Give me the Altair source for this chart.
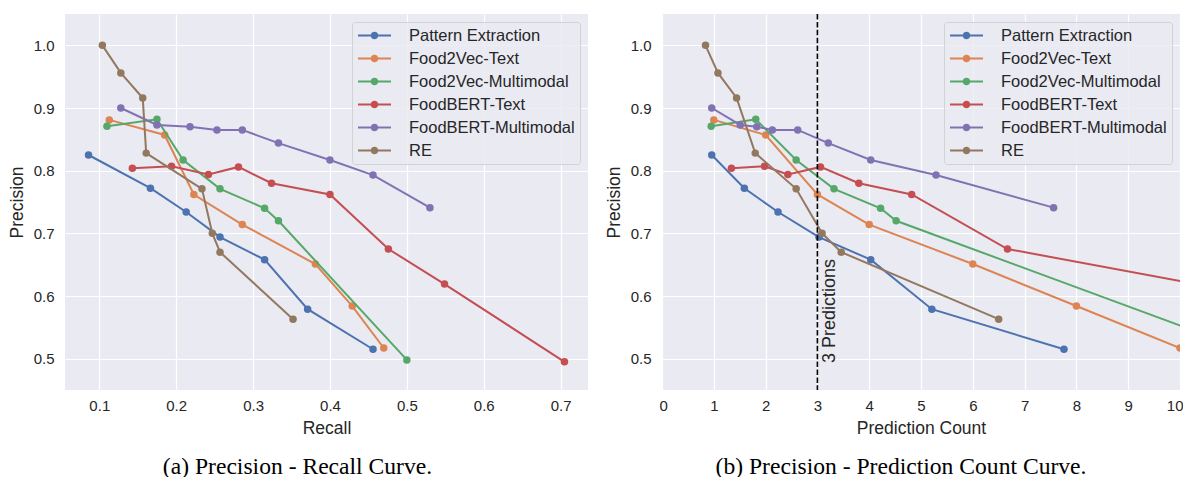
import altair as alt
import pandas as pd

SERIES = ["Pattern Extraction", "Food2Vec-Text", "Food2Vec-Multimodal",
          "FoodBERT-Text", "FoodBERT-Multimodal", "RE"]
COLORS = ["#4C72B0", "#DD8452", "#55A868", "#C44E52", "#8172B3", "#937860"]

# precision values (shared by both panels)
prec_pe = [0.825, 0.772, 0.734, 0.694, 0.658, 0.579, 0.515]
prec_f2t = [0.881, 0.857, 0.762, 0.714, 0.651, 0.584, 0.517]
prec_f2m = [0.871, 0.882, 0.817, 0.771, 0.740, 0.720, 0.498]
prec_fbt = [0.804, 0.807, 0.794, 0.806, 0.780, 0.762, 0.675, 0.619, 0.495]
prec_fbm = [0.900, 0.873, 0.870, 0.865, 0.865, 0.844, 0.817, 0.793, 0.741]
prec_re = [1.000, 0.956, 0.916, 0.828, 0.771, 0.700, 0.670, 0.563]

# recall values (panel a)
rec_pe = [0.086, 0.1665, 0.213, 0.257, 0.315, 0.371, 0.456]
rec_f2t = [0.113, 0.185, 0.223, 0.286, 0.381, 0.429, 0.470]
rec_f2m = [0.110, 0.175, 0.209, 0.257, 0.315, 0.333, 0.500]
rec_fbt = [0.143, 0.194, 0.242, 0.281, 0.324, 0.400, 0.476, 0.549, 0.705]
rec_fbm = [0.128, 0.175, 0.218, 0.253, 0.286, 0.333, 0.400, 0.456, 0.530]
rec_re = [0.104, 0.128, 0.1565, 0.161, 0.2335, 0.247, 0.257, 0.352]

# prediction counts (panel b)
cnt_pe = [0.96, 1.59, 2.24, 3.03, 4.03, 5.21, 7.76]
cnt_f2t = [1.0, 2.0, 3.0, 4.0, 6.0, 8.0, 10.0]
cnt_f2m = [0.95, 1.81, 2.59, 3.32, 4.22, 4.52, 11.8]
cnt_fbt = [1.34, 1.98, 2.43, 3.06, 3.80, 4.82, 6.67, 10.33, 16.0]
cnt_fbm = [0.96, 1.51, 1.83, 2.13, 2.62, 3.21, 4.03, 5.29, 7.56]
cnt_re = [0.84, 1.08, 1.44, 1.80, 2.59, 3.09, 3.46, 6.50]

RECALL_TICKS = [0.1, 0.2, 0.3, 0.4, 0.5, 0.6, 0.7]
COUNT_TICKS = [0, 1, 2, 3, 4, 5, 6, 7, 8, 9, 10]
PREC_TICKS = [0.5, 0.6, 0.7, 0.8, 0.9, 1.0]

VLINE_X = [3]
VLINE_LABEL = ["3 Predictions"]

precs = [prec_pe, prec_f2t, prec_f2m, prec_fbt, prec_fbm, prec_re]
recs = [rec_pe, rec_f2t, rec_f2m, rec_fbt, rec_fbm, rec_re]
cnts = [cnt_pe, cnt_f2t, cnt_f2m, cnt_fbt, cnt_fbm, cnt_re]

rows = []
for s, p, r, c in zip(SERIES, precs, recs, cnts):
    for i in range(len(p)):
        rows.append({"series": s, "idx": i, "precision": p[i], "recall": r[i], "count": c[i]})
df = pd.DataFrame(rows)

FONT = "Liberation Sans"
TXT = "#262626"

# legend symbol: short line + dot, all filled (unit = sqrt(size)/2 px)
SYMBOL = ("M-2,-0.12H2V0.12H-2Z"
          "M0.46,0A0.46,0.46,0,1,1,-0.46,0A0.46,0.46,0,1,1,0.46,0Z")

legend = alt.Legend(
    title=None, orient="top-right", offset=8,
    symbolType=SYMBOL, symbolSize=272, symbolStrokeWidth=0, symbolOpacity=1,
    symbolOffset=9,
    labelFont=FONT, labelFontSize=16.5, labelColor=TXT, labelLimit=400,
    labelOffset=26, padding=5, rowPadding=6,
    fillColor="rgba(234,234,242,0.8)", strokeColor="rgba(204,204,204,0.8)",
    cornerRadius=3,
)

color_scale = alt.Scale(domain=SERIES, range=COLORS)
yenc = alt.Y("precision:Q",
             scale=alt.Scale(domain=[0.45, 1.05], nice=False, zero=False),
             axis=alt.Axis(values=PREC_TICKS, format=".1f", title="Precision"))


def panel(xfield, xdomain, xticks, xfmt, xtitle, width, extra):
    xenc = alt.X(f"{xfield}:Q",
                 scale=alt.Scale(domain=xdomain, nice=False, zero=False),
                 axis=alt.Axis(values=xticks, format=xfmt, title=xtitle,
                               labelFlush=True, labelFlushOffset=3))
    layers = []
    for s, col in zip(SERIES, COLORS):
        base = alt.Chart(df[df.series == s])
        line = base.mark_line(strokeWidth=2, clip=True, color=col).encode(
            x=xenc, y=yenc, order="idx:Q")
        pts = base.mark_point(filled=True, size=56, opacity=1, clip=True).encode(
            x=xenc, y=yenc,
            color=alt.Color("series:N", scale=color_scale, legend=legend))
        layers += [line, pts]
    layers += extra
    return alt.layer(*layers).properties(width=width, height=376)


left = panel("recall", [0.0554, 0.7356], RECALL_TICKS, ".1f", "Recall", 523, []).properties(
    title=alt.TitleParams("(a) Precision - Recall Curve.", dx=-29))

vdf = pd.DataFrame({"x": VLINE_X, "label": VLINE_LABEL, "y": [0.493]})
vrule = alt.Chart(vdf).mark_rule(color="black", strokeWidth=1.6, strokeDash=[5.5, 2.4]).encode(
    x=alt.X("x:Q"))
vtext = alt.Chart(vdf).mark_text(angle=270, align="left", baseline="top", dy=4,
                                 fontSize=18, font=FONT, color=TXT).encode(
    x=alt.X("x:Q"), y=alt.Y("y:Q"), text="label:N")

right = panel("count", [0, 10], COUNT_TICKS, "d", "Prediction Count", 518, [vrule, vtext]).properties(
    title=alt.TitleParams("(b) Precision - Prediction Count Curve.", dx=-20))

chart = alt.hconcat(left, right, spacing=17).resolve_scale(
    color="independent"
).resolve_legend(color="independent").properties(
    padding={"left": 0, "top": 5, "right": 0, "bottom": 0}
).configure_view(fill="#EAEAF2", strokeWidth=0).configure_axis(
    grid=True, gridColor="white", gridWidth=1.2, domain=False, ticks=False,
    labelFont=FONT, labelFontSize=15, labelColor=TXT,
    titleFont=FONT, titleFontSize=17.5, titleFontWeight="normal", titleColor=TXT,
).configure_axisX(labelPadding=8, titlePadding=6).configure_axisY(
    labelPadding=11, titlePadding=7
).configure_title(
    font="Liberation Serif", fontSize=23.6, fontWeight="normal", color="black",
    orient="bottom", offset=18, anchor="middle"
)

chart.save("out.html", embed_options={"renderer": "svg", "actions": False})
